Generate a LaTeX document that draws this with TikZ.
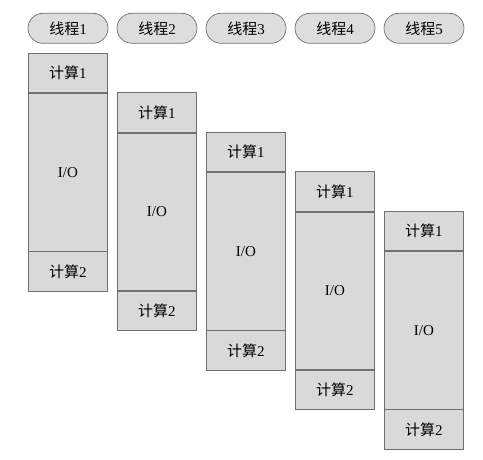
\documentclass[tikz,border=0pt]{standalone}
\usepackage{fontspec}
\setmainfont{Liberation Serif}
\newfontfamily\cjk{Noto Sans CJK SC}
\usetikzlibrary{shapes.misc}
\definecolor{boxfill}{RGB}{217,217,217}
\definecolor{pillfill}{RGB}{221,221,221}
\definecolor{edge}{RGB}{112,112,112}
\begin{document}
\begin{tikzpicture}[x=1pt,y=-1pt,
  pill/.style={rounded rectangle, draw=edge, fill=pillfill, line width=0.7pt,
    minimum width=80pt, minimum height=30pt, inner sep=0pt, font=\fontsize{15}{17}\selectfont},
  seg/.style={rectangle, draw=edge, fill=boxfill, line width=0.7pt,
    minimum width=79pt, inner sep=0pt, anchor=north west, font=\fontsize{15}{17}\selectfont},
  short/.style={seg, minimum height=39.5pt},
  long/.style={seg, minimum height=157.5pt}]
\useasboundingbox (0,0) rectangle (483,460);
\foreach \i in {0,...,4}{
  \pgfmathsetmacro{\xx}{28+89*\i}
  \pgfmathsetmacro{\yy}{53+39.5*\i}
  \pgfmathtruncatemacro{\n}{\i+1}
  \node[pill] (p\n) at (\xx+40,28.3) {{\cjk 线程}\n};
  \node[short] (c\n) at (\xx,\yy) {{\cjk 计算}1};
  \node[long] (io\n) at (c\n.south west) {I/O};
  \node[short] (d\n) at (io\n.south west) {{\cjk 计算}2};
}
\end{tikzpicture}
\end{document}
